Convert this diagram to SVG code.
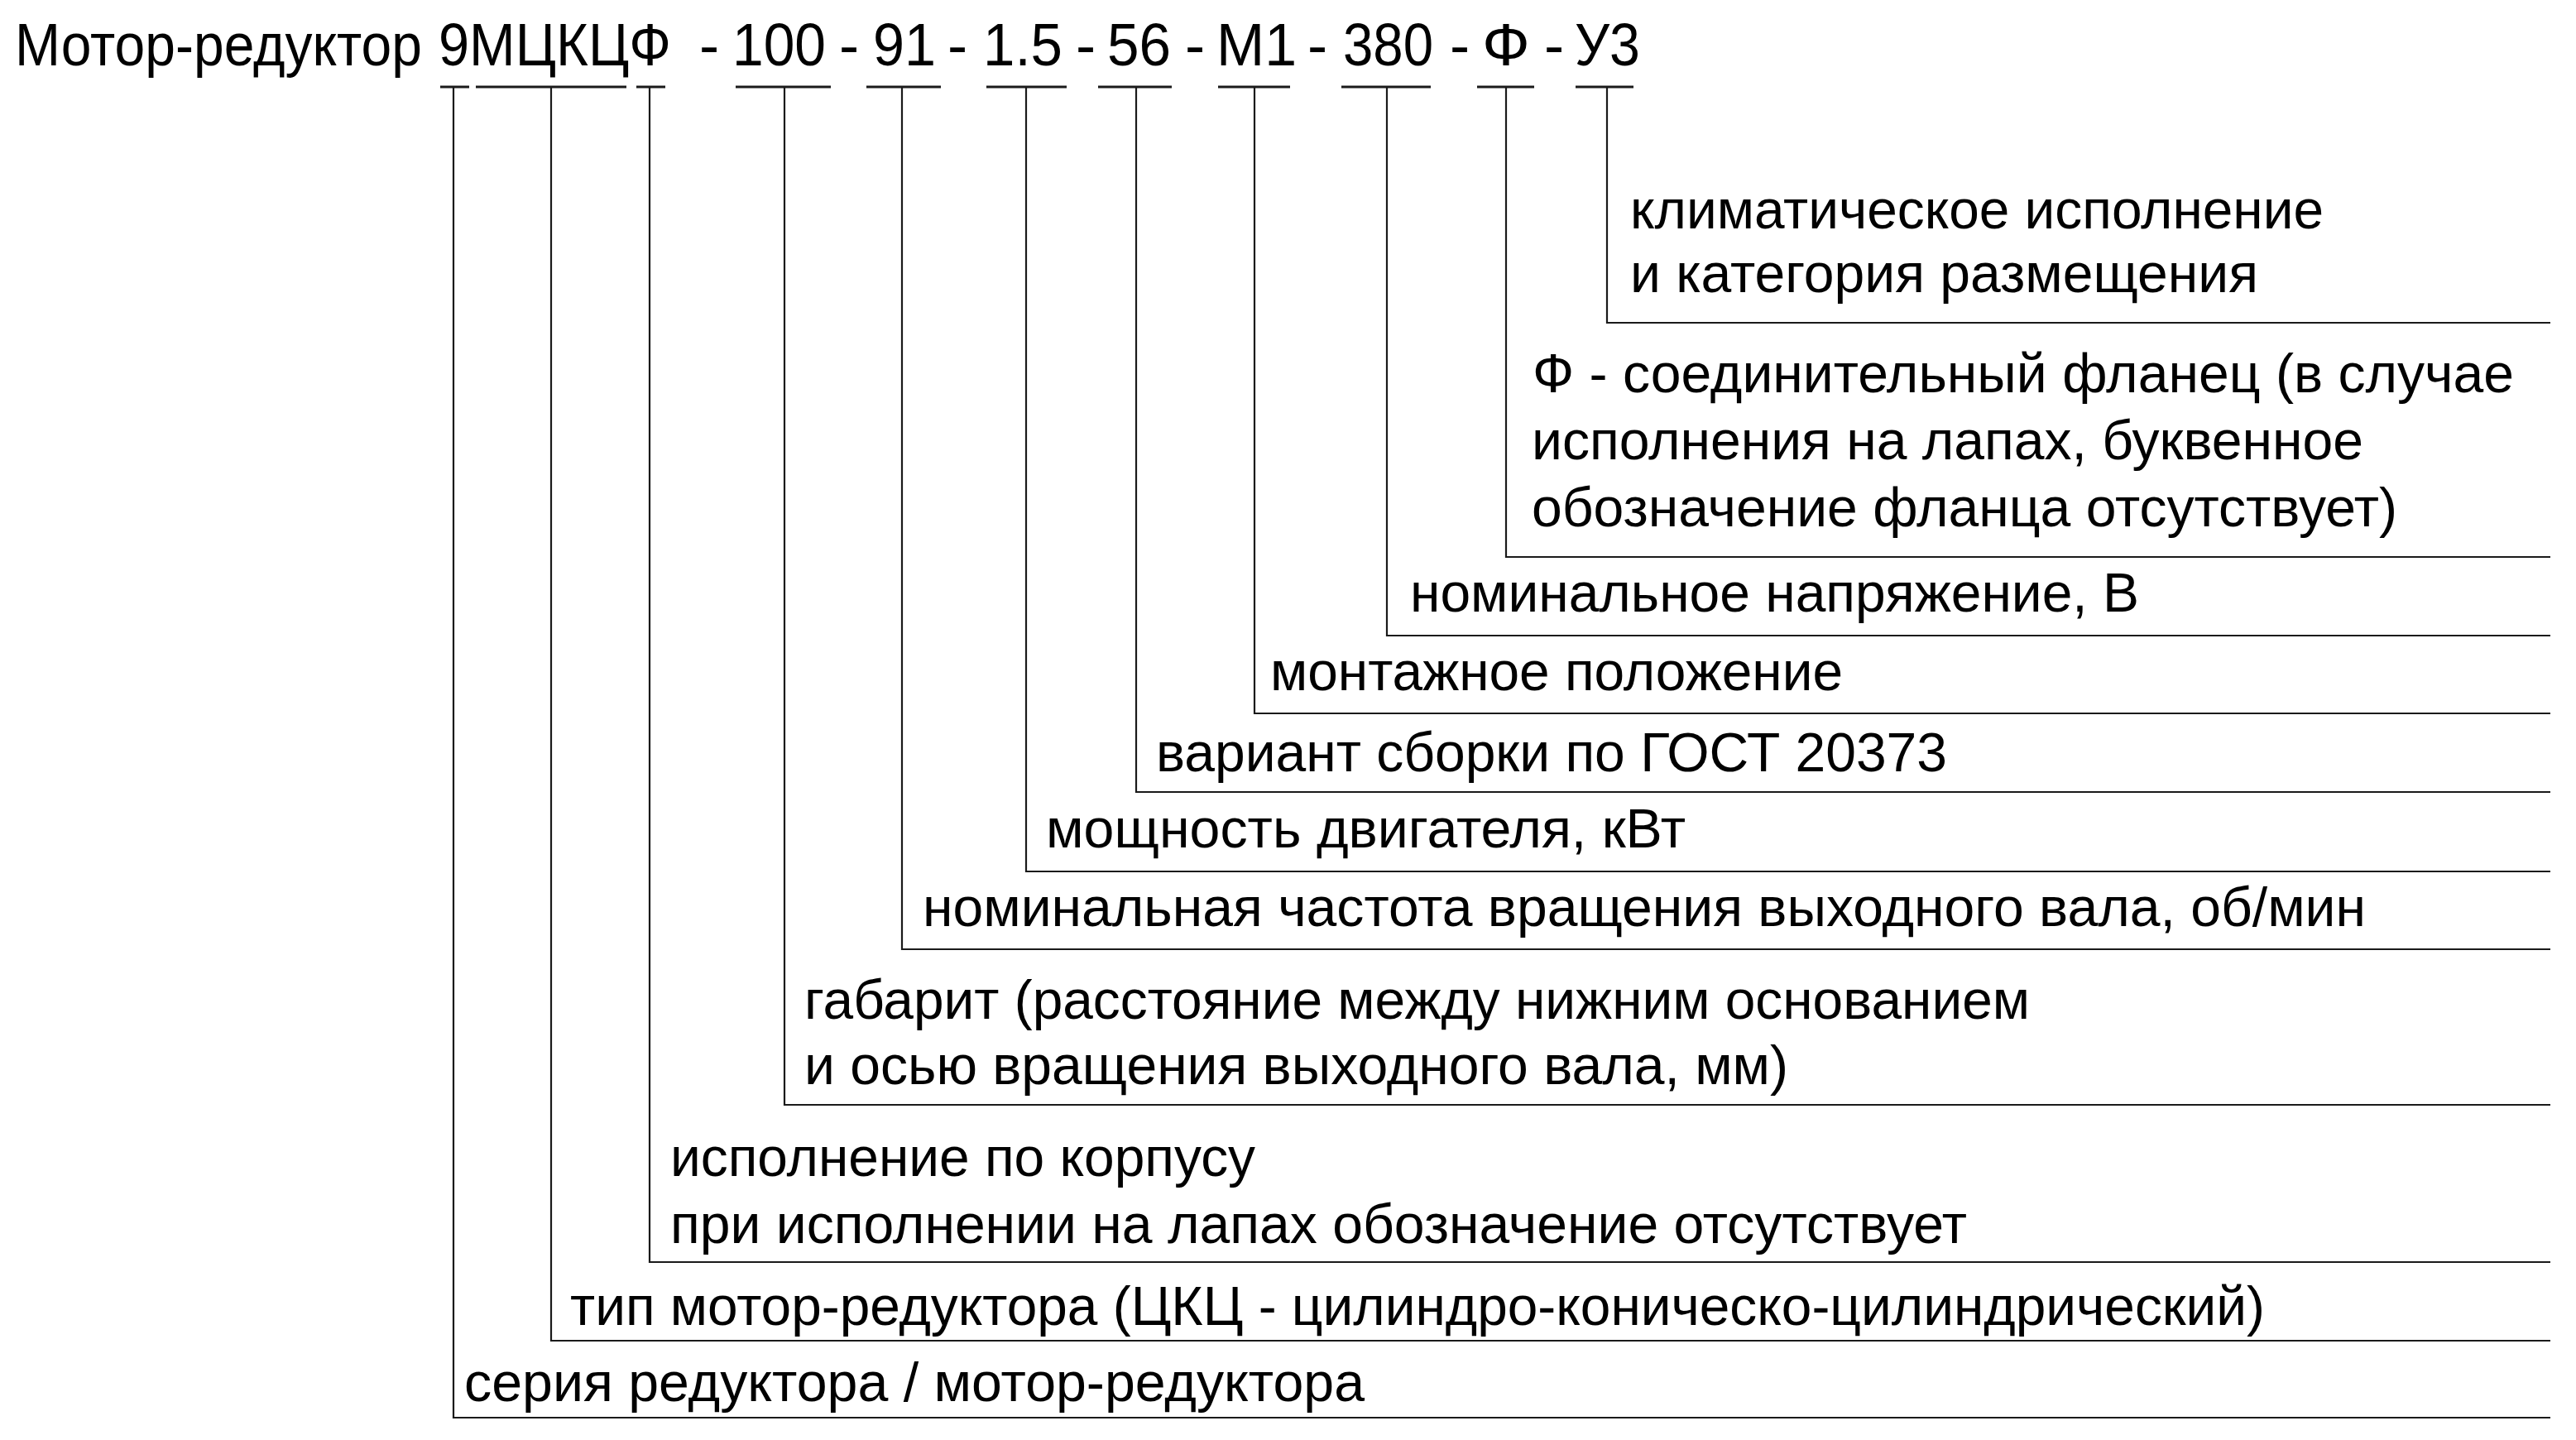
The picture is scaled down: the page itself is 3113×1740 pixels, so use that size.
<svg xmlns="http://www.w3.org/2000/svg" width="3113" height="1740" viewBox="0 0 3113 1740">
<style>
.t{font-family:"Liberation Sans",Arial,sans-serif;font-size:72.5px;fill:#000}
.l{font-family:"Liberation Sans",Arial,sans-serif;font-size:66px;fill:#000}
.c{fill:none;stroke:#1a1a1a;stroke-width:2.2}
.s{fill:none;stroke:#1a1a1a;stroke-width:3}
</style>
<rect width="3113" height="1740" fill="#fff"/>
<g id="title">
<text class="t" x="18" y="79" textLength="492" lengthAdjust="spacingAndGlyphs">Мотор-редуктор</text>
<text class="t" x="530" y="79" textLength="281" lengthAdjust="spacingAndGlyphs">9МЦКЦФ</text>
<text class="t" x="845" y="79">-</text>
<text class="t" x="885" y="79" textLength="113" lengthAdjust="spacingAndGlyphs">100</text>
<text class="t" x="1014" y="79">-</text>
<text class="t" x="1055" y="79" textLength="76" lengthAdjust="spacingAndGlyphs">91</text>
<text class="t" x="1145" y="79">-</text>
<text class="t" x="1188" y="79" textLength="96" lengthAdjust="spacingAndGlyphs">1.5</text>
<text class="t" x="1300" y="79">-</text>
<text class="t" x="1338" y="79" textLength="77" lengthAdjust="spacingAndGlyphs">56</text>
<text class="t" x="1432" y="79">-</text>
<text class="t" x="1470" y="79" textLength="97" lengthAdjust="spacingAndGlyphs">М1</text>
<text class="t" x="1580" y="79">-</text>
<text class="t" x="1623" y="79" textLength="109" lengthAdjust="spacingAndGlyphs">380</text>
<text class="t" x="1752" y="79">-</text>
<text class="t" x="1791" y="79" textLength="58" lengthAdjust="spacingAndGlyphs">Ф</text>
<text class="t" x="1866" y="79">-</text>
<text class="t" x="1903" y="79" textLength="79" lengthAdjust="spacingAndGlyphs">У3</text>
</g>
<g id="connectors">
<path class="s" d="M532 105H567M575 105H757M769 105H804M889 105H1004M1047 105H1137M1192 105H1289M1327 105H1416M1472 105H1559M1621 105H1729M1785 105H1854M1904 105H1974"/>
<path class="c" d="M1942 105V390H3082"/>
<path class="c" d="M1820 105V673H3082"/>
<path class="c" d="M1676 105V768H3082"/>
<path class="c" d="M1516 105V862H3082"/>
<path class="c" d="M1373 105V957H3082"/>
<path class="c" d="M1240 105V1053H3082"/>
<path class="c" d="M1090 105V1147H3082"/>
<path class="c" d="M948 105V1335H3082"/>
<path class="c" d="M785 105V1525H3082"/>
<path class="c" d="M666 105V1620H3082"/>
<path class="c" d="M548 105V1713H3082"/>
</g>
<g id="label-climate">
<text class="l" x="1970" y="276" textLength="838" lengthAdjust="spacingAndGlyphs">климатическое исполнение</text>
<text class="l" x="1970" y="353" textLength="759" lengthAdjust="spacingAndGlyphs">и категория размещения</text>
</g>
<g id="label-flange">
<text class="l" x="1852" y="474" textLength="1186" lengthAdjust="spacingAndGlyphs">Ф - соединительный фланец (в случае</text>
<text class="l" x="1851" y="555" textLength="1005" lengthAdjust="spacingAndGlyphs">исполнения на лапах, буквенное</text>
<text class="l" x="1851" y="636" textLength="1046" lengthAdjust="spacingAndGlyphs">обозначение фланца отсутствует)</text>
</g>
<g id="label-voltage">
<text class="l" x="1704" y="739" textLength="881" lengthAdjust="spacingAndGlyphs">номинальное напряжение, В</text>
</g>
<g id="label-mounting">
<text class="l" x="1535" y="834" textLength="692" lengthAdjust="spacingAndGlyphs">монтажное положение</text>
</g>
<g id="label-assembly">
<text class="l" x="1397" y="932" textLength="956" lengthAdjust="spacingAndGlyphs">вариант сборки по ГОСТ 20373</text>
</g>
<g id="label-power">
<text class="l" x="1264" y="1024" textLength="773" lengthAdjust="spacingAndGlyphs">мощность двигателя, кВт</text>
</g>
<g id="label-speed">
<text class="l" x="1115" y="1119" textLength="1744" lengthAdjust="spacingAndGlyphs">номинальная частота вращения выходного вала, об/мин</text>
</g>
<g id="label-size">
<text class="l" x="972" y="1231" textLength="1481" lengthAdjust="spacingAndGlyphs">габарит (расстояние между нижним основанием</text>
<text class="l" x="972" y="1310" textLength="1189" lengthAdjust="spacingAndGlyphs">и осью вращения выходного вала, мм)</text>
</g>
<g id="label-housing">
<text class="l" x="810" y="1421" textLength="707" lengthAdjust="spacingAndGlyphs">исполнение по корпусу</text>
<text class="l" x="810" y="1502" textLength="1567" lengthAdjust="spacingAndGlyphs">при исполнении на лапах обозначение отсутствует</text>
</g>
<g id="label-type">
<text class="l" x="689" y="1601" textLength="2048" lengthAdjust="spacingAndGlyphs">тип мотор-редуктора (ЦКЦ - цилиндро-коническо-цилиндрический)</text>
</g>
<g id="label-series">
<text class="l" x="561" y="1693" textLength="1088" lengthAdjust="spacingAndGlyphs">серия редуктора / мотор-редуктора</text>
</g>
</svg>
